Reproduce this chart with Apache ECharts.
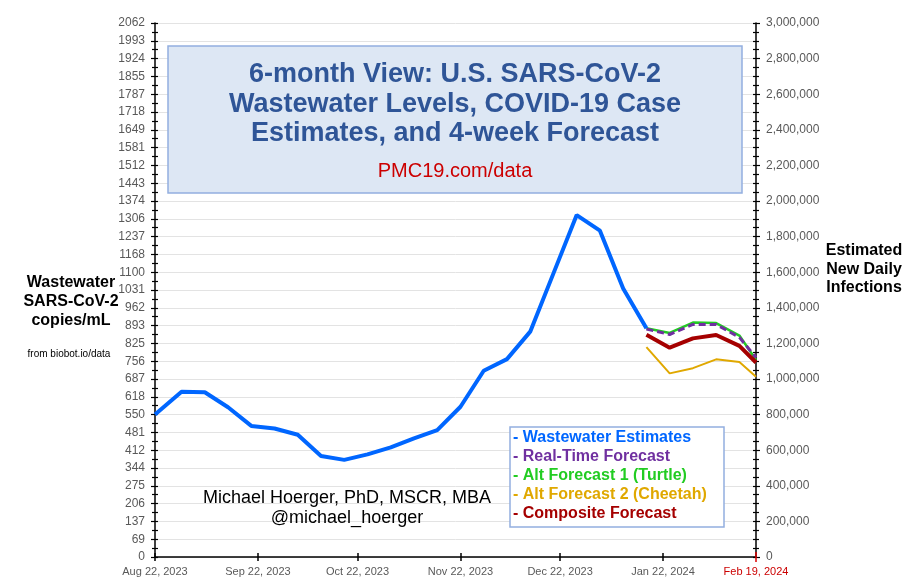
<!DOCTYPE html>
<html>
<head>
<meta charset="utf-8">
<script src="https://cdn.jsdelivr.net/npm/echarts@6/dist/echarts.min.js"></script>
<style>html,body{margin:0;padding:0;background:#fff;}#c{width:909px;height:579px;}</style>
</head>
<body>
<div id="c"></div>
<script>
// ---- data ----
const xTickDays = [0, 31, 61, 92, 122, 153, 181];
const xTickLabels = ['Aug 22, 2023', 'Sep 22, 2023', 'Oct 22, 2023', 'Nov 22, 2023', 'Dec 22, 2023', 'Jan 22, 2024', 'Feb 19, 2024'];
const leftTickLabels = ['0','69','137','206','275','344','412','481','550','618','687','756','825','893','962','1031','1100','1168','1237','1306','1374','1443','1512','1581','1649','1718','1787','1855','1924','1993','2062'];
const leftStep = 68.72;
const leftMax = 2061.6;
const rightMax = 3000000;
const rightStep = 200000;

const wwDays = [0, 8, 15, 22, 29, 36, 43, 50, 57, 64, 71, 78, 85, 92, 99, 106, 113, 120, 127, 134, 141, 148];
const wwValues = [550, 638, 636, 578, 506, 496, 472, 390, 375, 396, 423, 458, 490, 580, 719, 764, 870, 1095, 1320, 1260, 1037, 883];

const fcDays = [148, 155, 162, 169, 176, 181];
const realTime = [880, 859, 898, 898, 848, 770];
const turtle = [883, 865, 905, 903, 855, 761];
const cheetah = [810, 709, 729, 763, 753, 696];
const composite = [858, 808, 844, 857, 815, 751];

const legendItems = ['- Wastewater Estimates', '- Real-Time Forecast', '- Alt Forecast 1 (Turtle)', '- Alt Forecast 2 (Cheetah)', '- Composite Forecast'];
const colors = { ww: '#0066ff', rt: '#7030a0', turtle: '#22cc22', cheetah: '#e0a800', comp: '#a50000' };

// ---- build ----
const zip = (xs, ys) => xs.map((x, i) => [x, ys[i]]);
const FONT = 'Liberation Sans, Arial, sans-serif';
const gray = '#595959';
const black = { color: '#000', width: 1.2 };

const chart = echarts.init(document.getElementById('c'));

const gridRect = { left: 155, right: 153, top: 23, bottom: 22, containLabel: false };
const xMain = xTickDays.slice(0, -1);
const noLine = { show: false, onZero: false };

function xAx(gridIndex, extra) {
  return Object.assign({ type: 'value', gridIndex: gridIndex, min: 0, max: 181, position: 'bottom',
    splitLine: { show: false }, axisLine: noLine, axisLabel: { show: false } }, extra);
}
function yAx(gridIndex, position, max, interval, extra) {
  return Object.assign({ type: 'value', gridIndex: gridIndex, position: position, min: 0, max: max, interval: interval,
    splitLine: { show: false }, axisLine: noLine, axisLabel: { show: false }, axisTick: { show: false } }, extra);
}

const option = {
  animation: false,
  grid: [gridRect, gridRect, gridRect, gridRect],
  xAxis: [
    xAx(0, {
      axisLine: { show: true, onZero: false, lineStyle: { color: '#000', width: 1.5 } },
      axisTick: { show: true, customValues: xMain, length: 4, lineStyle: { color: '#000', width: 1.5 } },
      axisLabel: {
        show: true, customValues: xTickDays, color: gray, fontSize: 11, fontFamily: FONT, margin: 9,
        formatter: v => {
          const i = xTickDays.indexOf(v);
          if (i < 0) return '';
          return i === xTickDays.length - 1 ? '{r|' + xTickLabels[i] + '}' : xTickLabels[i];
        },
        rich: { r: { color: '#cc0000', fontSize: 11, fontFamily: FONT } }
      }
    }),
    xAx(1, { axisTick: { show: true, inside: true, customValues: xMain, length: 4, lineStyle: { color: '#000', width: 1.5 } } }),
    xAx(2, { axisTick: { show: true, customValues: [181], length: 5, lineStyle: { color: '#dd0000', width: 1.5 } } }),
    xAx(3, { axisTick: { show: true, inside: true, customValues: [181], length: 5, lineStyle: { color: '#dd0000', width: 1.5 } } })
  ],
  yAxis: [
    yAx(0, 'left', leftMax, leftStep, {
      axisLine: { show: true, onZero: false, lineStyle: { color: '#000', width: 1.5 } },
      axisTick: { show: true, length: 4, lineStyle: black },
      minorTick: { show: true, splitNumber: 2, length: 3, lineStyle: black },
      splitLine: { show: true, lineStyle: { color: '#e3e3e3', width: 1 } },
      axisLabel: { show: true, color: gray, fontSize: 12, fontFamily: FONT, margin: 10,
        formatter: v => leftTickLabels[Math.round(v / leftStep)] }
    }),
    yAx(0, 'right', rightMax, rightStep, {
      axisLine: { show: true, onZero: false, lineStyle: { color: '#000', width: 1.5 } },
      axisTick: { show: true, length: 4, lineStyle: black },
      minorTick: { show: true, splitNumber: 4, length: 3, lineStyle: black },
      axisLabel: { show: true, color: gray, fontSize: 12, fontFamily: FONT, margin: 10,
        formatter: v => Math.round(v).toLocaleString('en-US') }
    }),
    yAx(1, 'left', leftMax, leftStep, {
      axisTick: { show: true, inside: true, length: 3, lineStyle: black },
      minorTick: { show: true, splitNumber: 2, length: 3, lineStyle: black }
    }),
    yAx(1, 'right', rightMax, rightStep, {
      axisTick: { show: true, inside: true, length: 3, lineStyle: black },
      minorTick: { show: true, splitNumber: 4, length: 3, lineStyle: black }
    }),
    yAx(2, 'left', leftMax, leftStep, {}),
    yAx(3, 'left', leftMax, leftStep, {})
  ],
  series: [
    { name: 'Wastewater Estimates', type: 'line', data: zip(wwDays, wwValues), symbol: 'none',
      lineStyle: { color: colors.ww, width: 4 }, z: 5 },
    { name: 'Alt Forecast 1 (Turtle)', type: 'line', data: zip(fcDays, turtle), symbol: 'none',
      lineStyle: { color: colors.turtle, width: 2.5 }, z: 3 },
    { name: 'Real-Time Forecast', type: 'line', data: zip(fcDays, realTime), symbol: 'none',
      lineStyle: { color: colors.rt, width: 3, type: [7, 4] }, z: 4 },
    { name: 'Alt Forecast 2 (Cheetah)', type: 'line', data: zip(fcDays, cheetah), symbol: 'none',
      lineStyle: { color: colors.cheetah, width: 2 }, z: 3 },
    { name: 'Composite Forecast', type: 'line', data: zip(fcDays, composite), symbol: 'none',
      lineStyle: { color: colors.comp, width: 4 }, z: 4 }
  ],
  graphic: []
};

const g = option.graphic;
const txt = (text, x, y, font, fill, align) => g.push({
  type: 'text', x: x, y: y, z: 101,
  style: { text: text, font: font, fill: fill, align: align || 'center', verticalAlign: 'middle' }
});

// title box
g.push({ type: 'rect', z: 100, shape: { x: 168, y: 46, width: 574, height: 147 },
  style: { fill: '#dde7f4', stroke: '#93afe0', lineWidth: 1.5 } });
const titleFont = 'bold 27px ' + FONT;
txt('6-month View: U.S. SARS-CoV-2', 455, 75, titleFont, '#2f5597');
txt('Wastewater Levels, COVID-19 Case', 455, 104.5, titleFont, '#2f5597');
txt('Estimates, and 4-week Forecast', 455, 134, titleFont, '#2f5597');
txt('PMC19.com/data', 455, 171, '20px ' + FONT, '#cc0000');

// legend box
g.push({ type: 'rect', z: 100, shape: { x: 510, y: 427, width: 214, height: 100 },
  style: { fill: '#ffffff', stroke: '#93afe0', lineWidth: 1.5 } });
const legColors = [colors.ww, colors.rt, colors.turtle, colors.cheetah, colors.comp];
legendItems.forEach((t, i) => txt(t, 513, 438 + i * 19, 'bold 16px ' + FONT, legColors[i], 'left'));

// axis titles
const axFont = 'bold 16px ' + FONT;
txt('Wastewater', 71, 283, axFont, '#000');
txt('SARS-CoV-2', 71, 302, axFont, '#000');
txt('copies/mL', 71, 321, axFont, '#000');
txt('from biobot.io/data', 69, 354, '10px ' + FONT, '#000');
txt('Estimated', 864, 251, axFont, '#000');
txt('New Daily', 864, 270, axFont, '#000');
txt('Infections', 864, 288, axFont, '#000');

// author
txt('Michael Hoerger, PhD, MSCR, MBA', 347, 498, '18px ' + FONT, '#000');
txt('@michael_hoerger', 347, 518, '18px ' + FONT, '#000');

chart.setOption(option);
</script>
</body>
</html>
